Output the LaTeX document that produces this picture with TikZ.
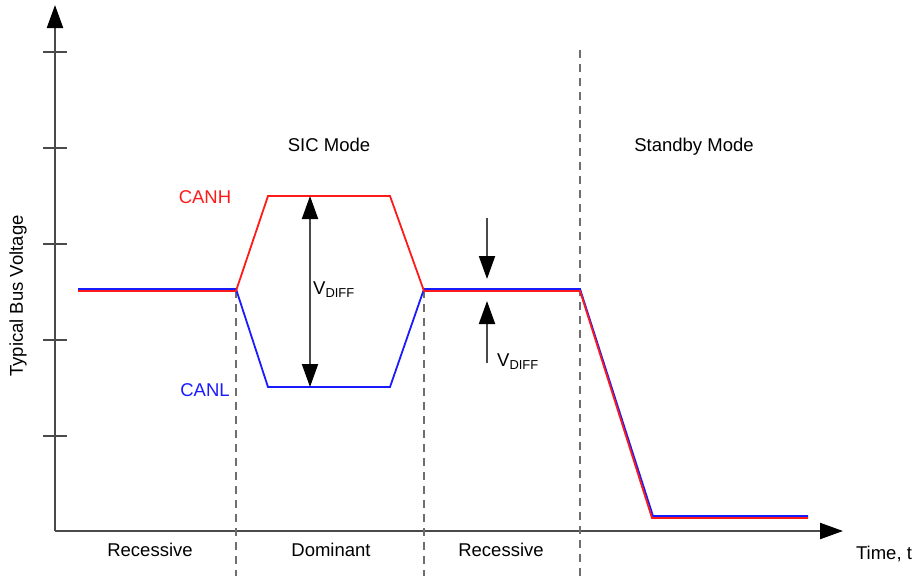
\documentclass[tikz,border=0pt]{standalone}
\usepackage{fontspec}
\setmainfont{Liberation Sans}
\usetikzlibrary{arrows.meta}
\definecolor{axisgray}{HTML}{4A4A4A}
\definecolor{dashgray}{HTML}{6E6E6E}
\definecolor{canhred}{HTML}{FF1A1A}
\definecolor{canlblue}{HTML}{1A1AFF}
\tikzset{
  headtip/.tip={Triangle[length=23pt,width=16pt,black]},
  axisline/.style={draw=axisgray, line width=2.2pt},
  tickline/.style={draw=axisgray, line width=1.6pt},
  dimline/.style={draw=axisgray, line width=2pt},
  phase/.style={draw=dashgray, line width=1.4pt, dash pattern=on 8pt off 6pt},
  hsig/.style={draw=canhred, line width=1.8pt, line join=miter},
  lsig/.style={draw=canlblue, line width=1.8pt, line join=miter},
  lbl/.style={font=\fontsize{18.5pt}{22pt}\selectfont, inner sep=0pt}
}
\begin{document}
\begin{tikzpicture}[x=1pt,y=-1pt]
\path[use as bounding box] (0,0) rectangle (917,576);

% axes
\coordinate (origin) at (55,531);
\coordinate (ytop) at (55,5);
\coordinate (xend) at (843,531);
\draw[axisline, -headtip] (origin) -- (ytop);
\draw[axisline, -headtip] (origin) -- (xend);
\foreach \ty in {52,148,244,340,436}{
  \draw[tickline] (43,\ty) -- (67,\ty);
}

% phase boundaries
\coordinate (b1t) at (236,290); \coordinate (b1b) at (236,576);
\coordinate (b2t) at (424,290); \coordinate (b2b) at (424,576);
\coordinate (b3t) at (580,50);  \coordinate (b3b) at (580,576);
\draw[phase] (b1t) -- (b1b);
\draw[phase] (b2t) -- (b2b);
\draw[phase] (b3t) -- (b3b);

% CANL (blue) and CANH (red) waveforms
\draw[lsig] (78,289) -- (236,289) -- (268,387) -- (390,387) -- (424,289)
  -- (580,289) -- (653,516) -- (808,516);
\draw[hsig] (78,291) -- (236,291) -- (268,196) -- (390,196) -- (424,291)
  -- (580,291) -- (652,518) -- (808,518);

% differential voltage, dominant phase
\coordinate (dtop) at (310,196);
\coordinate (dbot) at (310,387);
\draw[dimline, headtip-headtip] (dtop) -- (dbot);
\node[lbl, anchor=west] (vd1) at (313,290) {V\textsubscript{DIFF}};

% differential voltage, recessive phase
\coordinate (a1s) at (487,218); \coordinate (a1e) at (487,279);
\coordinate (a2s) at (487,363); \coordinate (a2e) at (487,301);
\draw[dimline, -headtip] (a1s) -- (a1e);
\draw[dimline, -headtip] (a2s) -- (a2e);
\node[lbl, anchor=west] (vd2) at (497,362) {V\textsubscript{DIFF}};

% labels
\node[lbl] (sic) at (329,145) {SIC Mode};
\node[lbl] (stby) at (694,147) {Standby Mode};
\node[lbl, text=canhred] (canh) at (205,197.5) {CANH};
\node[lbl, text=canlblue] (canl) at (205,390) {CANL};
\node[lbl] (rec1) at (150,550) {Recessive};
\node[lbl] (dom) at (331,550) {Dominant};
\node[lbl] (rec2) at (501,550) {Recessive};
\node[lbl] (time) at (884,554) {Time, t};
\node[lbl, rotate=90] (ylab) at (18,296) {Typical Bus Voltage};
\end{tikzpicture}
\end{document}
